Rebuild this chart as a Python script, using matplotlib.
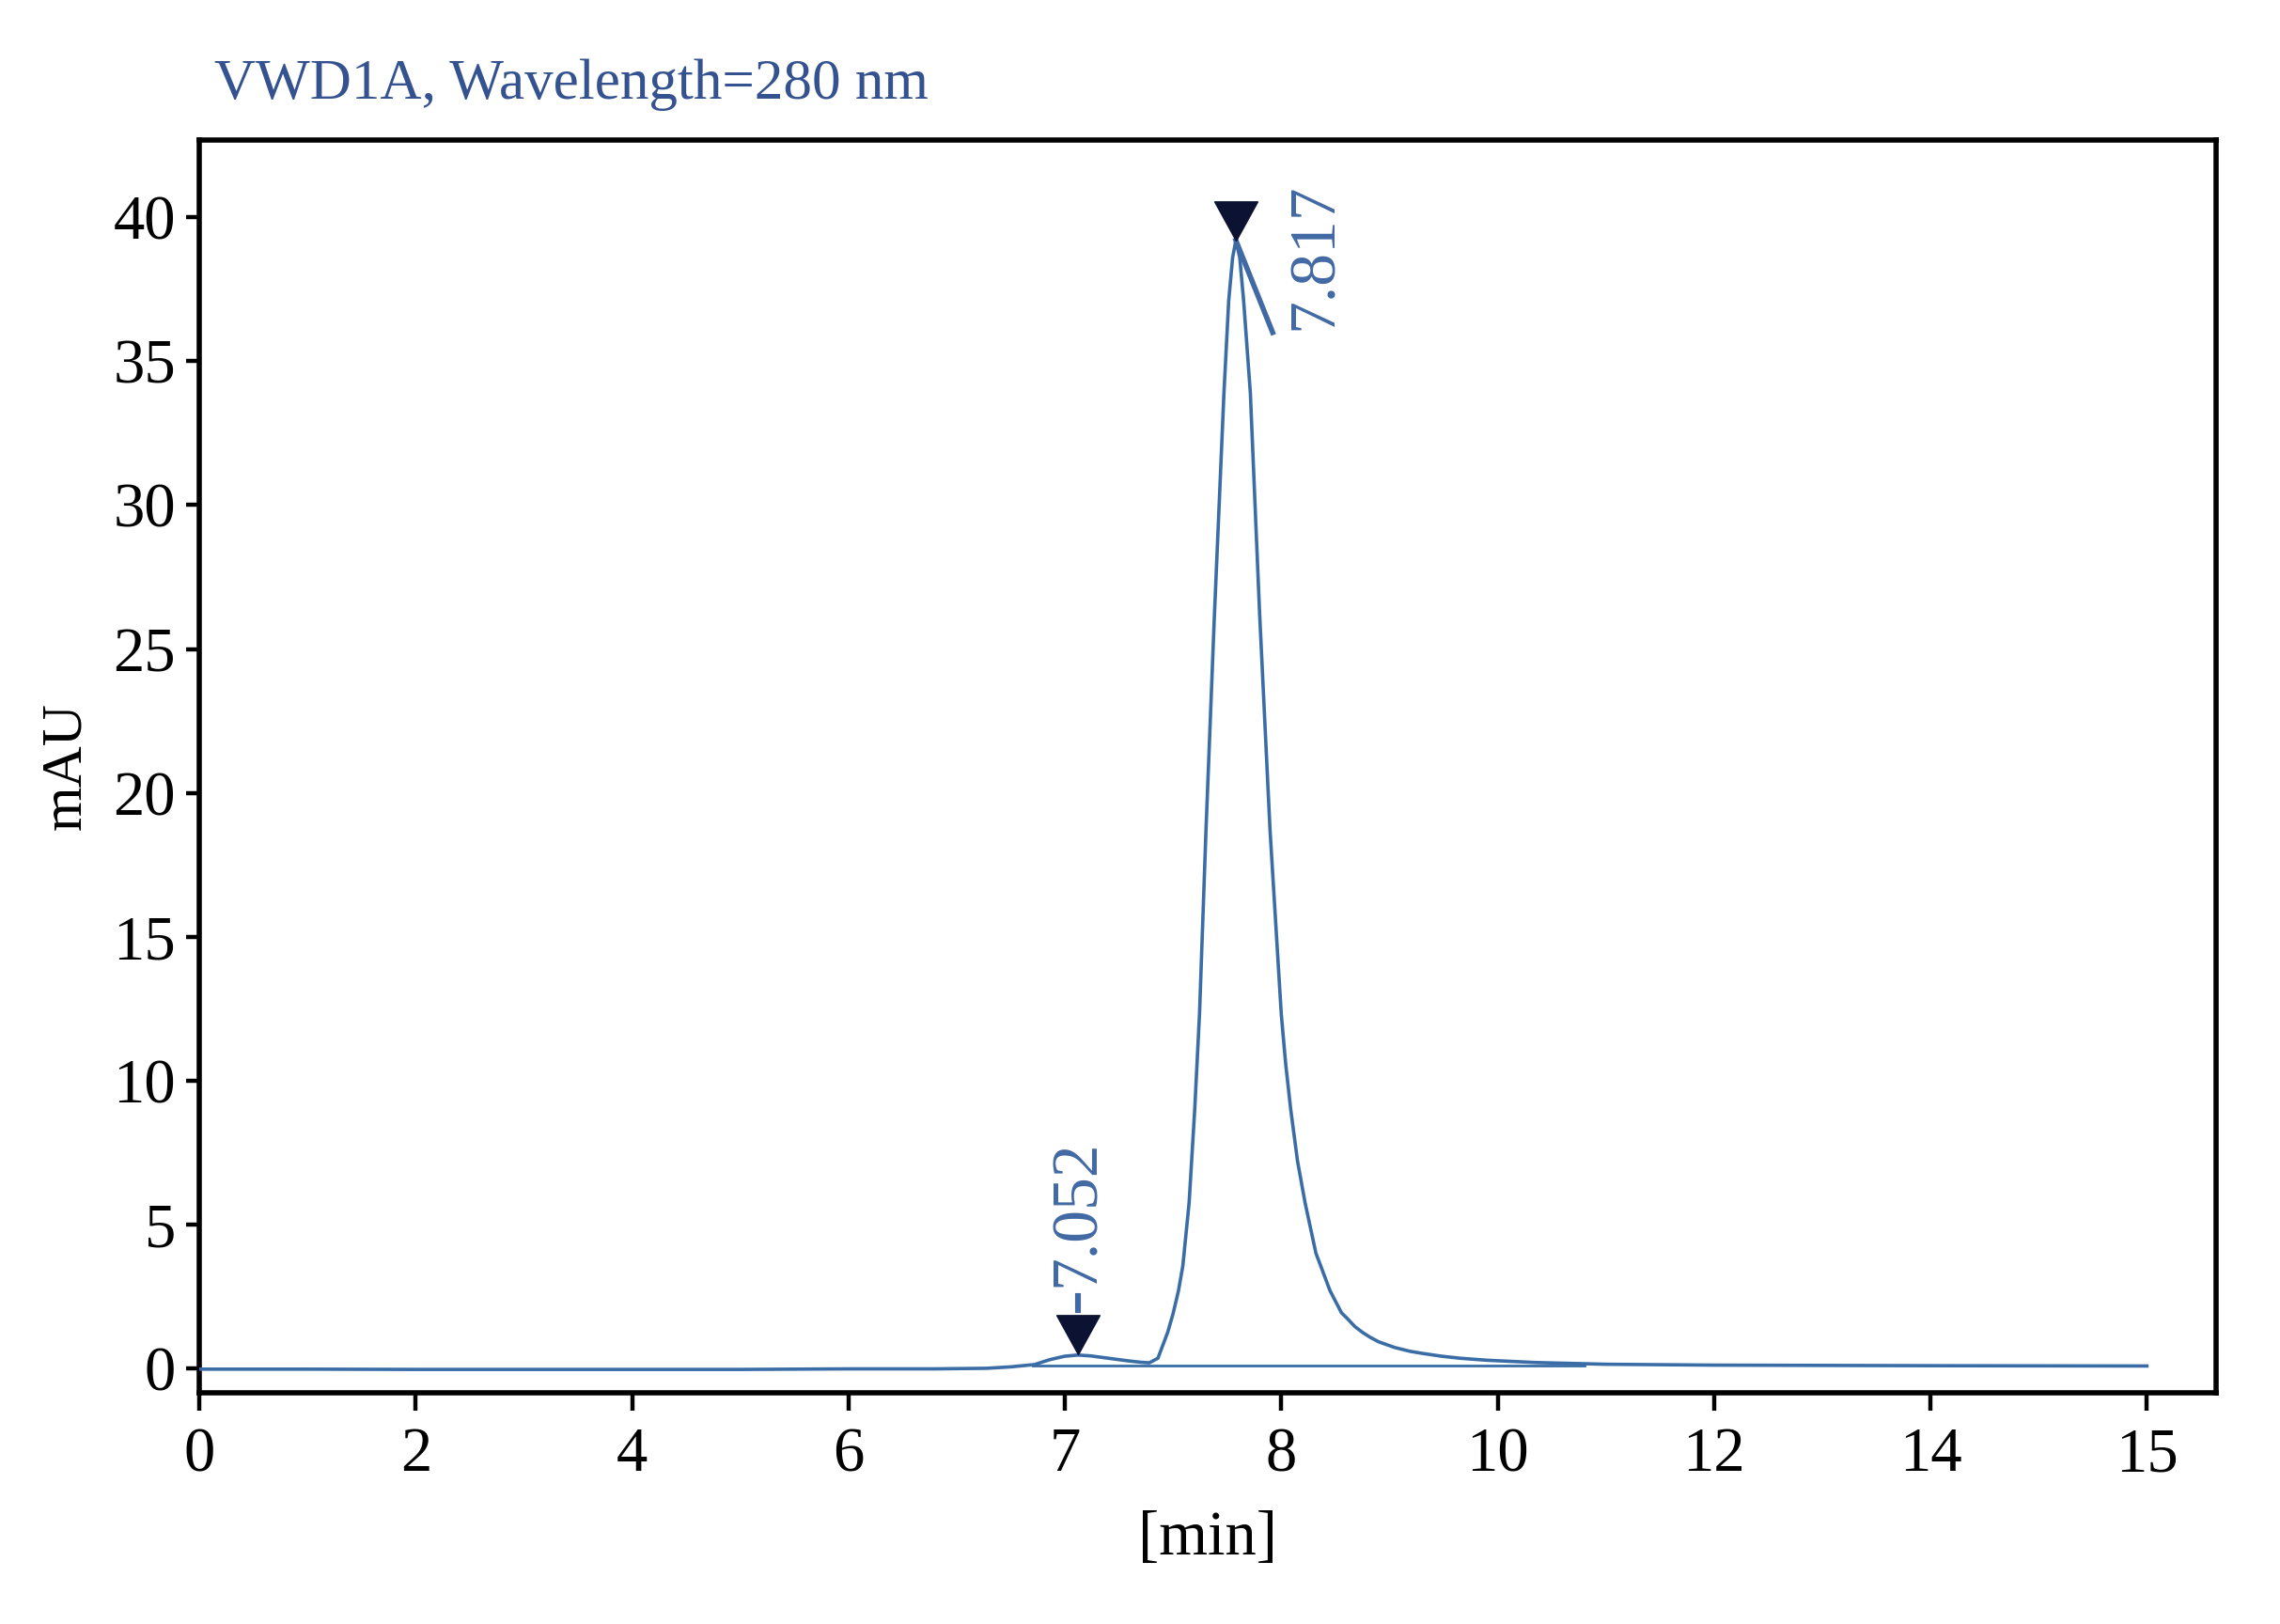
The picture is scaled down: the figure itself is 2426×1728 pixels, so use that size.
import matplotlib
matplotlib.use("Agg")
import matplotlib.pyplot as plt
import numpy as np

# retention time (min) and signal (mAU)
time = [0.0, 1.0, 2.0, 3.0, 4.0, 5.0, 5.5, 6.0, 6.4, 6.64, 6.75, 6.86, 6.93,
        7.0, 7.06, 7.12, 7.19, 7.29, 7.35, 7.39, 7.43, 7.45, 7.475, 7.50,
        7.525, 7.545, 7.574, 7.60, 7.622, 7.652, 7.69, 7.735, 7.757, 7.775,
        7.79, 7.808, 7.826, 7.857, 7.90, 7.948, 8.0, 8.04, 8.087, 8.15, 8.22,
        8.32, 8.38, 8.45, 8.556, 8.61, 8.68, 8.75, 8.82, 8.90, 9.05, 9.19,
        9.3, 9.48, 9.65, 9.9, 10.35, 11.0, 12.0, 13.0, 14.0, 15.0]
signal = [-0.03, -0.03, -0.04, -0.04, -0.04, -0.04, -0.03, -0.02, -0.02, 0.0,
          0.05, 0.13, 0.30, 0.42, 0.46, 0.43, 0.36, 0.26, 0.21, 0.19, 0.35,
          0.75, 1.25, 1.9, 2.7, 3.56, 5.75, 9.0, 12.3, 18.7, 26.0, 33.9, 37.1,
          38.6, 39.2, 38.6, 37.1, 33.9, 26.2, 18.7, 12.3, 10.6, 9.0, 7.2, 5.75,
          4.0, 3.4, 2.7, 1.93, 1.73, 1.45, 1.25, 1.08, 0.92, 0.72, 0.59, 0.52,
          0.42, 0.35, 0.28, 0.2, 0.14, 0.11, 0.1, 0.09, 0.08]

# integration baseline
base_t = [6.85, 10.8]
base_y = [0.10, 0.10]

# peaks: apex position and label
peak_t = [7.06, 7.79]
peak_y = [0.48, 39.2]
peak_lab = ["7.052", "7.817"]

# odd axis: ticks equally spaced even though the minutes are not
tick_min = [0, 2, 4, 6, 7, 8, 10, 12, 14, 15]
tick_lab = ["0", "2", "4", "6", "7", "8", "10", "12", "14", "15"]
knots_min = tick_min + [16]
knots_pos = list(range(len(knots_min)))

line_c = "#3a6ca6"
text_c = "#4169a3"
title_c = "#34528f"
serif = ["Liberation Serif", "DejaVu Serif"]

plt.rcParams["font.family"] = serif

fig = plt.figure(figsize=(12.13, 8.64), dpi=200)
ax = fig.add_axes([0.0874, 0.1424, 0.8846, 0.7716])

ax.set_xscale("function", functions=(lambda x: np.interp(x, knots_min, knots_pos),
                                     lambda p: np.interp(p, knots_pos, knots_min)))

ax.plot(time, signal, color=line_c, lw=1.3, zorder=3)
ax.plot(base_t, base_y, color=line_c, lw=1.0, zorder=2)

tri = [(0, 0), (-0.55, 1), (0.55, 1), (0, 0)]
ax.plot(peak_t, peak_y, ls="none", marker=tri, ms=30, mfc="#0b1232",
        mec="#0b1232", mew=0.5, zorder=5)

# small peak: short stub + label straight above
ax.plot([peak_t[0], peak_t[0]], [2.03, 2.5], color=text_c, lw=2.2, zorder=4)
ax.text(peak_t[0], 2.85, peak_lab[0], rotation=90, ha="center", va="bottom",
        color=text_c, fontsize=25)

# main peak: slanted leader to label on the right
ax.plot([peak_t[1], 7.96], [peak_y[1], 36.0], color=text_c, lw=2.0, zorder=4)
ax.text(8.32, 36.1, peak_lab[1], rotation=90, ha="center", va="bottom",
        color=text_c, fontsize=25)

ax.set_xlim(0, 15.32)
ax.set_ylim(-0.85, 42.7)
ax.set_xticks(tick_min)
ax.set_xticklabels(tick_lab)
ax.set_yticks(range(0, 45, 5))
ax.minorticks_off()

ax.tick_params(axis="x", direction="out", length=7, width=1.6, pad=6,
               labelsize=24)
ax.tick_params(axis="y", direction="out", length=5, width=1.6, pad=4,
               labelsize=24)
for s in ax.spines.values():
    s.set_linewidth(2.0)

ax.set_xlabel("[min]", fontsize=24, labelpad=10)
ax.set_ylabel("mAU", fontsize=22, labelpad=8)

fig.text(0.094, 0.948, "VWD1A, Wavelength=280 nm", color=title_c, fontsize=22,
         ha="left", va="center")

fig.savefig("out.png", dpi=200, facecolor="white")
